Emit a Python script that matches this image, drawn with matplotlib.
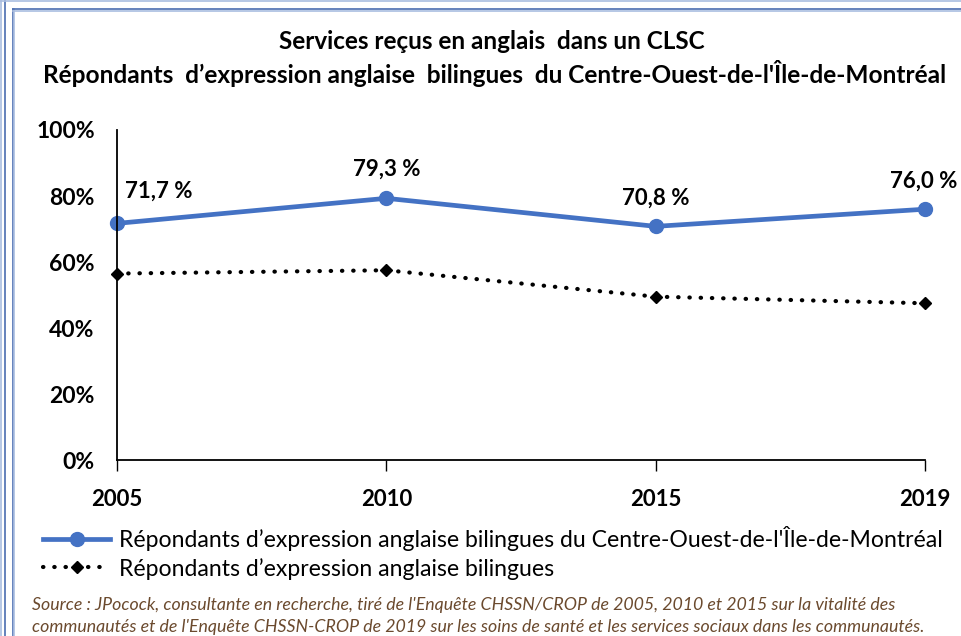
import matplotlib
matplotlib.use("Agg")
import matplotlib.pyplot as plt
from matplotlib.lines import Line2D

years = ["2005", "2010", "2015", "2019"]
centre_ouest = [71.7, 79.3, 70.8, 76.0]
bilingues = [56.5, 57.5, 49.5, 47.5]
labels_co = ["71,7 %", "79,3 %", "70,8 %", "76,0 %"]
y_ticks = [0, 20, 40, 60, 80, 100]

plt.rcParams["font.family"] = ["Lato", "DejaVu Sans"]

fig = plt.figure(figsize=(9.61, 6.36), dpi=100)
ax = fig.add_axes([0.1217, 0.2767, 0.8408, 0.5189])

x = list(range(len(years)))
ax.plot(x, centre_ouest, "-o", color="#4472C4", linewidth=3.4, markersize=10,
        label="Répondants d\u2019expression anglaise bilingues du Centre-Ouest-de-l'Île-de-Montréal")
ax.plot(x, bilingues, linestyle=(0, (0.1, 2.6)), dash_capstyle="round", marker="D",
        color="black", linewidth=3, markersize=6.5,
        label="Répondants d\u2019expression anglaise bilingues")

# offsets (points) of the value labels from each point
offsets = [(6, 23, "left"), (0, 21, "center"), (0, 20, "center"), (-25, 20, "left")]
for i, (lab, v) in enumerate(zip(labels_co, centre_ouest)):
    dx, dy, ha = offsets[i]
    ax.annotate(lab, (i, v), xytext=(dx, dy), textcoords="offset points",
                ha=ha, va="center", fontsize=16, fontweight="bold",
                annotation_clip=False)

ax.set_xlim(0, len(years) - 1)
ax.set_ylim(0, 100)
ax.set_xticks(x)
ax.set_xticklabels(years, fontsize=16, fontweight="bold")
ax.set_yticks(y_ticks)
ax.set_yticklabels([f"{t}%" for t in y_ticks], fontsize=16.5, fontweight="bold")
ax.tick_params(axis="x", length=8, width=1, pad=13, direction="out")
ax.tick_params(axis="y", length=0, pad=16)
for s in ["top", "right"]:
    ax.spines[s].set_visible(False)
for s in ["left", "bottom"]:
    ax.spines[s].set_linewidth(1.3)
for ln in ax.lines:
    ln.set_clip_on(False)

fig.text(0.512, 0.934, "Services reçus en anglais  dans un CLSC", ha="center", va="center",
         fontsize=17.5, fontweight="bold")
fig.text(0.515, 0.884, "Répondants  d\u2019expression anglaise  bilingues  du Centre-Ouest-de-l'Île-de-Montréal",
         ha="center", va="center", fontsize=17.6, fontweight="bold")

leg = ax.legend(loc="center left", bbox_to_anchor=(0.045, 0.131), bbox_transform=fig.transFigure,
                frameon=False, fontsize=16.6, handlelength=2.9, handletextpad=0.4,
                labelspacing=0.3, borderaxespad=0, borderpad=0)

src_kw = dict(fontsize=12.8, style="italic", color="#6b4a2e")
fig.text(0.033, 0.049, "Source : JPocock, consultante en recherche, tiré de l'Enquête CHSSN/CROP de 2005, 2010 et 2015 sur la vitalité des",
         va="center", **src_kw)
fig.text(0.033, 0.014, "communautés et de l'Enquête CHSSN-CROP de 2019 sur les soins de santé et les services sociaux dans les communautés.",
         va="center", **src_kw)

# page borders
border_dark = "#4a6db0"
border_light = "#a9bde0"
W, H = 961, 636
for xp, c in [(1, border_light), (4.5, border_dark), (12.5, border_dark), (14, border_light)]:
    fig.add_artist(Line2D([xp / W, xp / W], [0, 1 - (9 if xp > 10 else 0) / H],
                          color=c, linewidth=1.2, transform=fig.transFigure))
for yp, c in [(0.5, border_light), (9, border_dark), (10.5, border_light)]:
    x0 = 12.5 / W if yp > 5 else 0
    fig.add_artist(Line2D([x0, 1], [1 - yp / H, 1 - yp / H],
                          color=c, linewidth=1.2, transform=fig.transFigure))

fig.savefig("out.png", dpi=100)
